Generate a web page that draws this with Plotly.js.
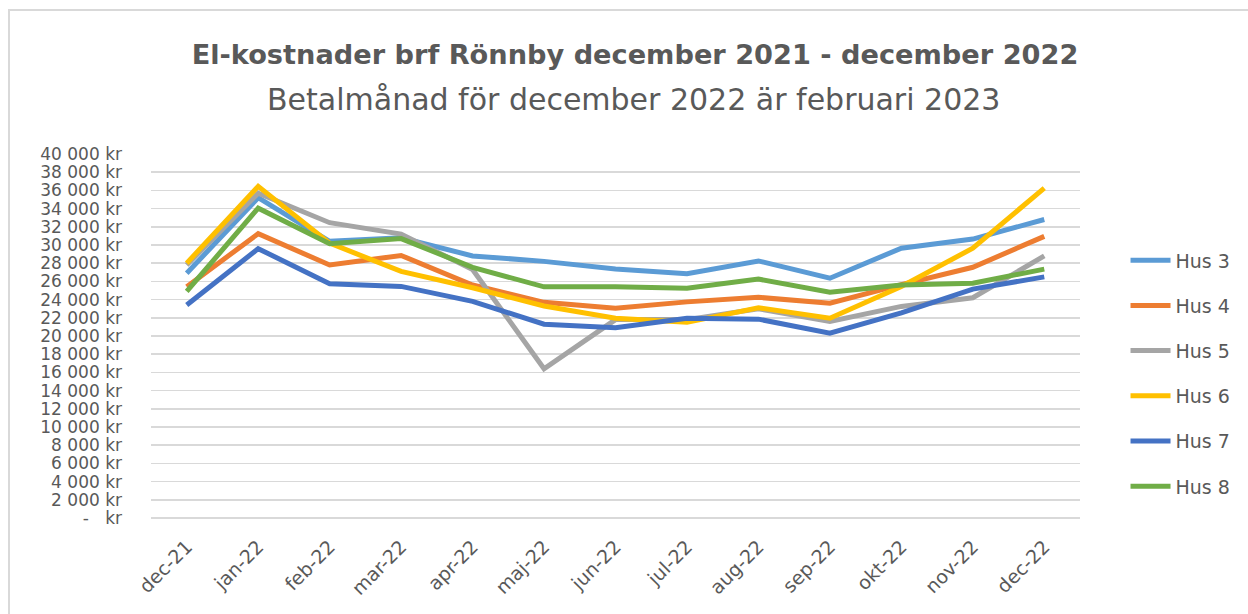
<!DOCTYPE html>
<html>
<head>
<meta charset="utf-8">
<script src="https://cdn.plot.ly/plotly-3.0.1.min.js"></script>
<style>
html,body{margin:0;padding:0;width:1248px;height:614px;overflow:hidden;background:#fff;}
#frame{position:absolute;left:8px;top:9px;width:1400px;height:800px;border:2px solid #d9d9d9;box-sizing:border-box;}
#chart{position:absolute;left:0;top:0;width:1248px;height:614px;}
</style>
</head>
<body>
<div id="frame"></div>
<div id="chart"></div>
<script>
const months = ["dec-21","jan-22","feb-22","mar-22","apr-22","maj-22","jun-22","jul-22","aug-22","sep-22","okt-22","nov-22","dec-22"];
const seriesNames = ["Hus 3","Hus 4","Hus 5","Hus 6","Hus 7","Hus 8"];
const hus3 = [26900,35200,30400,30800,28800,28200,27350,26850,28250,26350,29650,30650,32800];
const hus4 = [25400,31250,27800,28850,25600,23700,23050,23750,24250,23600,25650,27550,30950];
const hus5 = [27800,35700,32450,31200,27300,16400,21800,21800,23000,21600,23250,24200,28800];
const hus6 = [28000,36450,30200,27100,25300,23300,21950,21500,23100,21950,25450,29650,36250];
const hus7 = [23400,29600,25750,25450,23800,21300,20900,21950,21850,20300,22550,25150,26500];
const hus8 = [24900,34050,30150,30700,27550,25400,25400,25250,26250,24800,25600,25800,27350];
const seriesColors = ["#5B9BD5","#ED7D31","#A5A5A5","#FFC000","#4472C4","#70AD47"];
const yTickVals = [0,2000,4000,6000,8000,10000,12000,14000,16000,18000,20000,22000,24000,26000,28000,30000,32000,34000,36000,38000,40000];
const yTickText = ["-\u00a0\u00a0\u00a0kr","2 000 kr","4 000 kr","6 000 kr","8 000 kr","10 000 kr","12 000 kr","14 000 kr","16 000 kr","18 000 kr","20 000 kr","22 000 kr","24 000 kr","26 000 kr","28 000 kr","30 000 kr","32 000 kr","34 000 kr","36 000 kr","38 000 kr","40 000 kr"];
const titleText = "El-kostnader brf Rönnby december 2021 - december 2022";
const subtitleText = "Betalmånad för december 2022 är februari 2023";

const allValues = [hus3,hus4,hus5,hus6,hus7,hus8];
const FONT = "'DejaVu Sans', sans-serif";
const traces = allValues.map((vals,i)=>({
  type:"scatter", mode:"lines", x:months, y:vals, name:seriesNames[i],
  legendgroup:"g"+i,
  line:{color:seriesColors[i], width:5},
  hoverinfo:"skip"
}));

const layout = {
  width:1248, height:614,
  margin:{l:151, r:166, t:154, b:96, pad:0},
  paper_bgcolor:"rgba(0,0,0,0)", plot_bgcolor:"rgba(0,0,0,0)",
  font:{family:FONT, color:"#595959", size:17},
  title:{text:"<b>"+titleText+"</b>", font:{family:FONT, size:27.2, color:"#595959"},
         xref:"container", yref:"container", x:635/1248, xanchor:"center", y:1-54/614, yanchor:"middle"},
  annotations:[{text:subtitleText, xref:"paper", yref:"paper", x:(635-151)/931, y:(518-99)/364,
     xanchor:"center", yanchor:"middle", showarrow:false, font:{family:FONT, size:30, color:"#595959"}}],
  xaxis:{type:"category", range:[-0.5,12.5], tickangle:-45, showgrid:false, zeroline:false,
         showline:false, ticks:"", ticklabelstandoff:13, tickfont:{size:19, color:"#595959"}, fixedrange:true},
  yaxis:{range:[0,40000], tickvals:yTickVals, ticktext:yTickText, showgrid:true, gridcolor:"#d9d9d9", gridwidth:1.5,
         zeroline:true, zerolinecolor:"#d9d9d9", zerolinewidth:1.5, showline:false, ticks:"",
         ticklabelstandoff:28, tickfont:{size:17, color:"#595959"}, fixedrange:true},
  showlegend:true,
  legend:{x:1.049, xanchor:"left", y:0.76, yanchor:"top", traceorder:"grouped", tracegroupgap:17.5,
          font:{size:19, color:"#595959"}, bgcolor:"rgba(0,0,0,0)", itemwidth:40}
};
Plotly.newPlot("chart", traces, layout, {displayModeBar:false, staticPlot:true});
</script>
</body>
</html>
